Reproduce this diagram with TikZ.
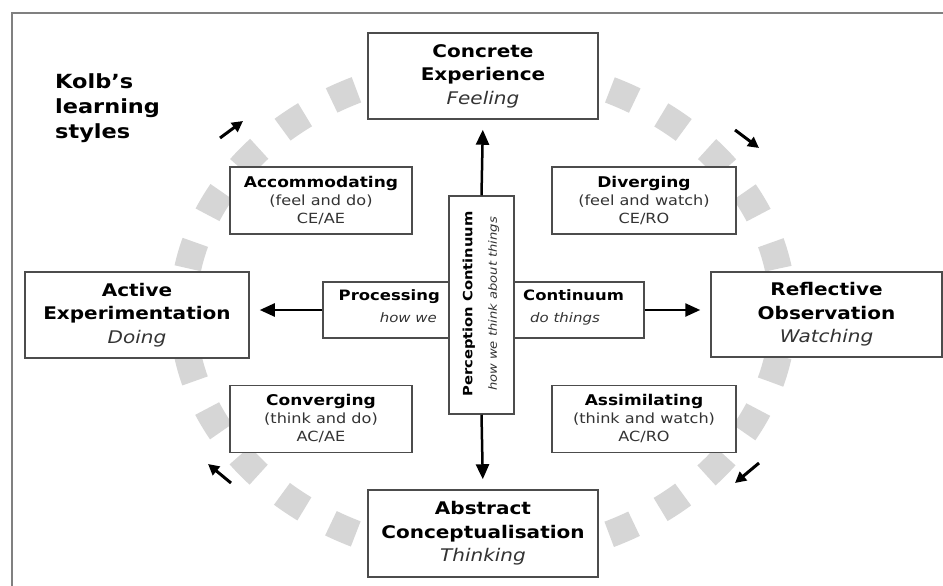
\documentclass[tikz,border=0pt]{standalone}
\usepackage{fontspec}
\setmainfont{DejaVu Sans}[FakeStretch=1.15]
\usetikzlibrary{arrows.meta}
\definecolor{boxline}{gray}{0.3}
\definecolor{ringgray}{gray}{0.84}
\definecolor{framegray}{gray}{0.5}
\definecolor{softtext}{gray}{0.2}
\newcommand{\stylename}[1]{{\bfseries\fontsize{14.8}{18}\selectfont #1}}
\begin{document}
\begin{tikzpicture}[x=1pt,y=-1pt,
  box/.style={draw=boxline, line width=1.5pt, fill=white, align=center, inner sep=0pt},
  bigbox/.style={box, font=\fontsize{17.4}{23.5}\selectfont},
  stylebox/.style={box, font=\fontsize{14}{18}\selectfont, minimum height=67pt},
  flow/.style={-{Triangle[length=15pt,width=13pt]}, line width=2.5pt, black, shorten >=10pt},
  cyclearrow/.style={-{Triangle[length=11pt,width=11pt]}, line width=3pt, black},
  hint/.style={font=\itshape\fontsize{13}{15}\selectfont, text=softtext, inner sep=0pt},
  axislabel/.style={font=\bfseries\fontsize{14.3}{16}\selectfont, inner sep=0pt}
]
\useasboundingbox (0,0) rectangle (943,586);
\fill[white] (0,0) rectangle (943,586);

% page frame (top and left edges)
\draw[framegray, line width=2pt] (11.5,586) -- (11.5,13.5) -- (943,13.5);

% dashed learning cycle ring
\draw[ringgray, line width=27pt, dash pattern=on 27pt off 30.2pt, dash phase=13.5pt]
  (483,312) ellipse [x radius=300pt, y radius=245pt];

% title
\node[anchor=north west, align=left, inner sep=0pt,
      font=\bfseries\fontsize{19.5}{25}\selectfont] (title) at (55,73) {Kolb's\\learning\\styles};

% four learning modes
\node[bigbox, minimum width=230pt, minimum height=86pt] (ce) at (483,76)
  {\textbf{Concrete}\\\textbf{Experience}\\\textcolor{softtext}{\itshape Feeling}};
\node[bigbox, minimum width=230pt, minimum height=87pt] (ac) at (483,533.5)
  {\textbf{Abstract}\\\textbf{Conceptualisation}\\\textcolor{softtext}{\itshape Thinking}};
\node[bigbox, minimum width=224pt, minimum height=86pt] (ae) at (137,315)
  {\textbf{Active}\\\textbf{Experimentation}\\\textcolor{softtext}{\itshape Doing}};
\node[bigbox, minimum width=231pt, minimum height=85pt] (ro) at (826.5,314.5)
  {\textbf{Reflective}\\\textbf{Observation}\\\textcolor{softtext}{\itshape Watching}};

% four learning styles
\node[stylebox, minimum width=182pt] (acc) at (321,200.5)
  {\stylename{Accommodating}\\\textcolor{softtext}{(feel and do)}\\\textcolor{softtext}{CE/AE}};
\node[stylebox, minimum width=184pt] (div) at (644,200.5)
  {\stylename{Diverging}\\\textcolor{softtext}{(feel and watch)}\\\textcolor{softtext}{CE/RO}};
\node[stylebox, minimum width=182pt] (conv) at (321,419)
  {\stylename{Converging}\\\textcolor{softtext}{(think and do)}\\\textcolor{softtext}{AC/AE}};
\node[stylebox, minimum width=184pt] (assim) at (644,419)
  {\stylename{Assimilating}\\\textcolor{softtext}{(think and watch)}\\\textcolor{softtext}{AC/RO}};

% processing continuum (horizontal) and perception continuum (vertical)
\node[box, minimum width=321pt, minimum height=56pt] (proc) at (483.5,310) {};
\node[box, minimum width=65pt, minimum height=218pt] (perc) at (481.5,305) {};
\node[rotate=90, align=center, inner sep=0pt, font=\fontsize{12.8}{24.5}\selectfont] (perctext) at (481,304)
  {\textbf{Perception Continuum}\\\textcolor{softtext}{\fontsize{11.4}{24.5}\selectfont\itshape how we think about things}};

\node[axislabel, anchor=base east] (proclabel) at (440,300) {Processing};
\node[hint, anchor=base east] (howwe) at (437,322) {how we};
\node[axislabel, anchor=base west] (contlabel) at (523,300) {Continuum};
\node[hint, anchor=base west] (dothings) at (530,322) {do things};

% axis arrows
\draw[flow] (perc.north) -- (ce.south);
\draw[flow] (perc.south) -- (ac.north);
\draw[flow] (proc.west) -- (proc.west -| ae.east);
\draw[flow] (proc.east) -- (proc.east -| ro.west);

% direction of the cycle
\coordinate (n1) at (220,138); \coordinate (n2) at (243,121);
\coordinate (e1) at (735,130); \coordinate (e2) at (759,148);
\coordinate (s1) at (759,463); \coordinate (s2) at (735,483);
\coordinate (w1) at (231,483); \coordinate (w2) at (208,464);
\draw[cyclearrow] (n1) -- (n2);
\draw[cyclearrow] (e1) -- (e2);
\draw[cyclearrow] (s1) -- (s2);
\draw[cyclearrow] (w1) -- (w2);
\end{tikzpicture}
\end{document}
